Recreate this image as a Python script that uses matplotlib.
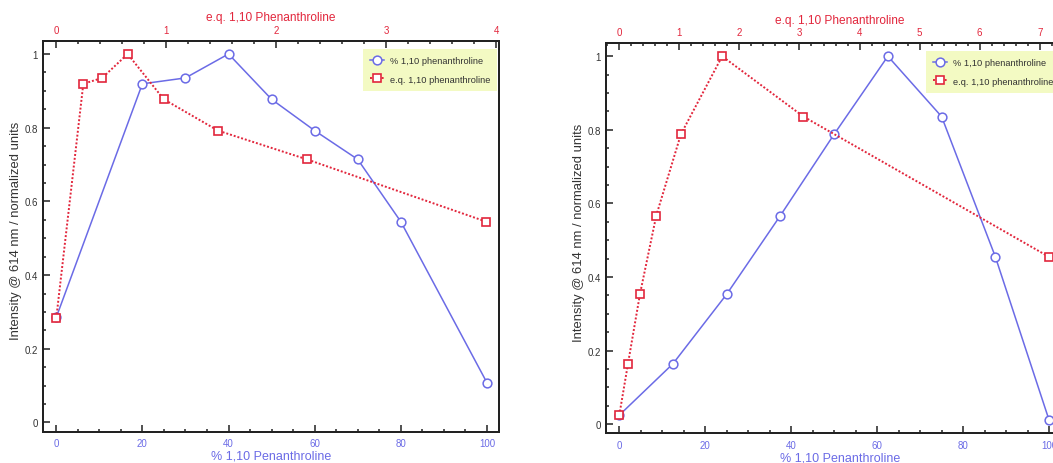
import matplotlib
matplotlib.use("Agg")
import matplotlib.pyplot as plt
from matplotlib.ticker import MultipleLocator
from matplotlib.lines import Line2D

plt.rcParams['font.family'] = ['Liberation Sans', 'DejaVu Sans']

# ---- data: left panel ----
pct_A = [0, 20, 30, 40, 50, 60, 70, 80, 100]
int_pct_A = [0.285, 0.919, 0.935, 1.0, 0.877, 0.792, 0.714, 0.545, 0.108]
eq_A = [0, 0.246, 0.418, 0.649, 0.978, 1.471, 2.28, 3.91]
int_eq_A = [0.283, 0.919, 0.935, 1.0, 0.877, 0.792, 0.714, 0.545]

# ---- data: right panel ----
pct_B = [0, 12.5, 25, 37.5, 50, 62.5, 75, 87.5, 100]
int_pct_B = [0.024, 0.164, 0.353, 0.567, 0.788, 1.0, 0.836, 0.455, 0.011]
eq_B = [0, 0.145, 0.344, 0.616, 1.026, 1.713, 3.066, 7.15]
int_eq_B = [0.024, 0.164, 0.353, 0.567, 0.788, 1.0, 0.836, 0.455]

bottom_label = "% 1,10 Penanthroline"
top_label = "e.q. 1,10 Phenanthroline"
y_label = "Intensity @ 614 nm / normalized units"
leg_pct = "% 1,10 phenanthroline"
leg_eq = "e.q. 1,10 phenanthroline"

BLUE = "#6b6be6"
RED = "#e2263c"
DARK = "#333333"
LEGBG = "#f3fac3"

W, H = 1053, 464
fig = plt.figure(figsize=(W / 100, H / 100), dpi=100)


def px_rect(l, t, r, b):
    return [l / W, 1 - b / H, (r - l) / W, (b - t) / H]


def make_panel(rect, pct, ipct, eq, ieq, bot_lim, top_lim, top_max, leg_xy,
               ylab_x):
    ax = fig.add_axes(rect)
    ax.set_xlim(*bot_lim)
    ax.set_ylim(-0.025, 1.036)
    ax.plot(pct, ipct, color=BLUE, lw=1.1, marker='o', ms=6.3,
            mfc='white', mec=BLUE, mew=1.1, zorder=3)
    ax.set_xticks([0, 20, 40, 60, 80, 100])
    ax.xaxis.set_minor_locator(MultipleLocator(5))
    ax.yaxis.set_minor_locator(MultipleLocator(0.05))
    ax.set_yticks([0, 0.2, 0.4, 0.6, 0.8, 1.0])
    ax.set_yticklabels(['0', '0.2', '0.4', '0.6', '0.8', '1'])
    ax.tick_params(which='both', direction='in', top=False, right=False,
                   width=1.1, color='#222222')
    ax.tick_params(which='major', length=5)
    ax.tick_params(which='minor', length=2.5)
    ax.tick_params(axis='x', labelsize=7, labelcolor=BLUE, pad=4.5)
    ax.tick_params(axis='y', labelsize=7, labelcolor=DARK, pad=4)
    for s in ax.spines.values():
        s.set_linewidth(1.4)
        s.set_color('#222222')
    ax.set_xlabel(bottom_label, color=BLUE, fontsize=9)
    ax.xaxis.set_label_coords(0.5, -0.046)
    ax.set_ylabel(y_label, color=DARK, fontsize=9.4)
    ax.yaxis.set_label_coords(ylab_x, 0.515)

    ax2 = ax.twiny()
    ax2.set_xlim(*top_lim)
    ax2.plot(eq, ieq, color=RED, lw=1.4, ls=(0, (1, 1)), marker='s', ms=5.8,
             mfc='white', mec=RED, mew=1.2, zorder=4)
    ax2.set_xticks(list(range(0, top_max + 1)))
    ax2.xaxis.set_minor_locator(MultipleLocator(0.2))
    ax2.tick_params(which='both', direction='in', width=1.1, color='#222222')
    ax2.tick_params(which='major', length=5)
    ax2.tick_params(which='minor', length=2.5)
    ax2.tick_params(axis='x', labelsize=7, labelcolor=RED, pad=4)
    for s in ax2.spines.values():
        s.set_linewidth(1.4)
        s.set_color('#222222')
    ax2.set_xlabel(top_label, color=RED, fontsize=8.6)
    ax2.xaxis.set_label_coords(0.5, 1.052)

    handles = [
        Line2D([], [], color=BLUE, lw=1.1, marker='o', ms=6.3, mfc='white',
               mec=BLUE, mew=1.1),
        Line2D([], [], color=RED, lw=1.4, ls=(0, (1, 1)), marker='s', ms=5.8,
               mfc='white', mec=RED, mew=1.2),
    ]
    leg = ax2.legend(handles, [leg_pct, leg_eq], loc='upper left',
                     bbox_to_anchor=(leg_xy[0] / W, 1 - leg_xy[1] / H),
                     bbox_transform=fig.transFigure, fontsize=6.7,
                     frameon=True, fancybox=False, facecolor=LEGBG,
                     edgecolor='none', framealpha=1, handlelength=1.5,
                     handletextpad=0.6, borderpad=0.75, labelspacing=1.05,
                     borderaxespad=0)
    for t in leg.get_texts():
        t.set_color(DARK)
    return ax, ax2


make_panel(px_rect(43.3, 41.7, 499, 432.7), pct_A, int_pct_A, eq_A, int_eq_A,
           (-3.0, 102.8), (-0.118, 4.027), 4, (363, 50), -0.047)
make_panel(px_rect(606.3, 44, 1074, 434.3), pct_B, int_pct_B, eq_B, int_eq_B,
           (-3.0, 105.8), (-0.216, 7.57), 7, (926, 52), -0.0455)

fig.savefig("out.png", dpi=100)
